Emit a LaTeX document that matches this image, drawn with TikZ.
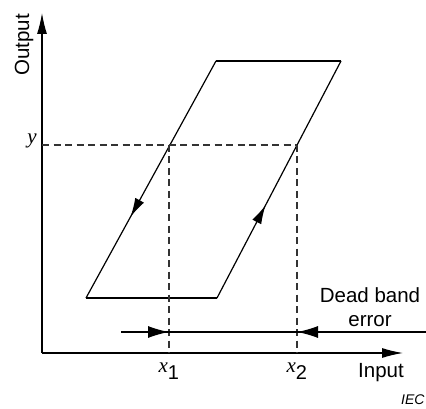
\documentclass[tikz,border=0pt]{standalone}
\usepackage{fontspec}
\setmainfont{Liberation Sans}
\newfontfamily\serifit{Liberation Serif}[Ligatures=TeX]
\usepackage{tikz}
\usetikzlibrary{arrows.meta,calc,decorations.markings}

\begin{document}
\begin{tikzpicture}[
      x=1pt, y=-1pt,
      axis/.style={line width=1.2pt, -{Latex[length=21pt, width=10pt]}},
      curve/.style={line width=1.2pt, line join=miter},
      guide/.style={line width=1.2pt, dash pattern=on 7pt off 4.5pt, draw=black!80},
      dbarrow/.style={line width=1.2pt, -{Latex[length=21pt, width=12pt]}},
      midarrow/.style={postaction={decorate}, decoration={markings,
                       mark=at position #1 with {\arrow{Latex[length=19pt, width=10pt]}}}},
      lbl/.style={font=\fontsize{20.5}{23}\selectfont, inner sep=0pt},
      varlbl/.style={font=\fontsize{21}{24}\selectfont\serifit\itshape, inner sep=0pt}
    ]
      \useasboundingbox (0,0) rectangle (426,409);
      %% Axes
      \coordinate (origin) at (42,353);
      \coordinate (ytop)   at (42,13);
      \coordinate (xend)   at (403,353);
      \draw[axis] (origin) -- (ytop);
      \draw[axis] (origin) -- (xend);
      \node[lbl, rotate=90] (output) at (24,45) {Output};
      \node[lbl] (input) at (381,373) {Input};
      %% Hysteresis loop
      \coordinate (bl) at (86,298);
      \coordinate (tl) at (216,61);
      \coordinate (tr) at (341,61);
      \coordinate (br) at (217,298);
      \draw[curve] (tr) -- (tl);
      \draw[curve] (bl) -- (br);
      \draw[curve, midarrow=0.658] (tl) -- (bl);
      \draw[curve, midarrow=0.392] (br) -- (tr);
      %% Output level y and inputs x1, x2
      \coordinate (yaxis) at (42,145);
      \coordinate (p1) at (169,145);
      \coordinate (p2) at (297,145);
      \draw[guide] (yaxis) -- (p2);
      \draw[guide] (p1) -- (p1|-origin);
      \draw[guide] (p2) -- (p2|-origin);
      \node[varlbl, anchor=east] (ylbl) at (37,141) {y};
      \node[varlbl] (x1lbl) at (169,371)
            {x\textsubscript{\normalfont\fontsize{20}{24}\selectfont 1}};
      \node[varlbl] (x2lbl) at (297,371)
            {x\textsubscript{\normalfont\fontsize{20}{24}\selectfont 2}};
      %% Dead band error
      \coordinate (dbleft)  at (121,332);
      \coordinate (dbright) at (426,332);
      \draw[line width=1.2pt] (dbleft) -- (dbright);
      \draw[dbarrow] (dbleft) -- (p1|-dbleft);
      \draw[dbarrow] (dbright) -- (p2|-dbright);
      \node[lbl, align=center] (dblbl) at (370,307) {Dead band\\[1pt]error};
      \node[font=\fontsize{14}{16}\selectfont\itshape, anchor=west, inner sep=0pt]
            (iec) at (401,400) {IEC};
    \end{tikzpicture}
\end{document}
